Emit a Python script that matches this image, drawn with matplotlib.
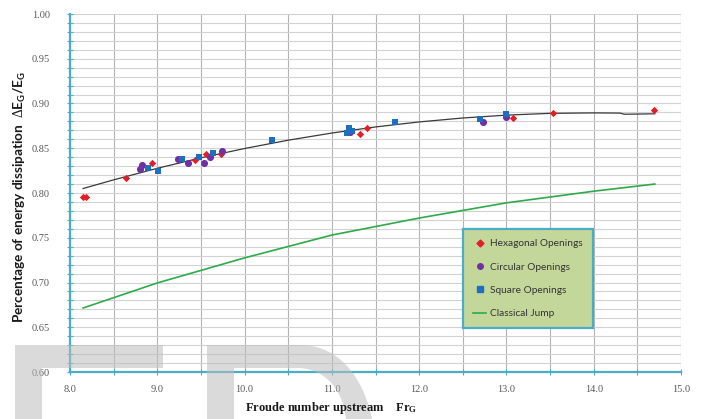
import matplotlib
matplotlib.use("Agg")
import matplotlib.pyplot as plt
from matplotlib.path import Path
from matplotlib.patches import PathPatch
from matplotlib.ticker import MultipleLocator, FormatStrFormatter
from matplotlib.lines import Line2D

# ---------------- data ----------------
hex_x = [8.15, 8.18, 8.64, 8.94, 9.43, 9.56, 9.73, 11.32, 11.40, 13.07, 13.53, 14.69]
hex_y = [0.795, 0.796, 0.817, 0.834, 0.837, 0.844, 0.844, 0.866, 0.873, 0.884, 0.889, 0.893]

circ_x = [8.80, 8.83, 9.24, 9.35, 9.53, 9.60, 9.74, 11.21, 12.73, 12.99]
circ_y = [0.827, 0.831, 0.838, 0.834, 0.834, 0.840, 0.847, 0.868, 0.879, 0.885]

sq_x = [8.89, 9.01, 9.28, 9.48, 9.64, 10.31, 11.17, 11.20, 11.23, 11.72, 12.70, 12.99]
sq_y = [0.828, 0.825, 0.838, 0.840, 0.845, 0.859, 0.867, 0.873, 0.869, 0.879, 0.883, 0.888]

trend_x = [8.15, 8.5, 9.0, 9.5, 10.0, 10.5, 11.0, 11.5, 12.0, 12.5, 13.0, 13.5, 14.0, 14.3, 14.35, 14.7]
trend_y = [0.805, 0.8147, 0.8276, 0.8393, 0.8497, 0.8590, 0.8670, 0.8738, 0.8794, 0.8838, 0.8870,
           0.8890, 0.8895, 0.8893, 0.8880, 0.8885]

classic_x = [8.15, 9.0, 10.0, 11.0, 12.0, 13.0, 14.0, 14.7]
classic_y = [0.6715, 0.6995, 0.7275, 0.7530, 0.7720, 0.7890, 0.8020, 0.8100]

legend_labels = ["Hexagonal Openings", "Circular Openings", "Square Openings", "Classical Jump"]

# ---------------- style ----------------
plt.rcParams["mathtext.fontset"] = "custom"
plt.rcParams["mathtext.bf"] = "Liberation Serif:bold"
plt.rcParams["mathtext.rm"] = "Liberation Serif"
plt.rcParams["mathtext.sf"] = "Lato:bold"

W, H = 707, 419
fig = plt.figure(figsize=(W / 100, H / 100), dpi=100)
fig.patch.set_facecolor("white")

x0, x1, ytop, ybot = 70, 681, 14, 372
ax = fig.add_axes([x0 / W, 1 - ybot / H, (x1 - x0) / W, (ybot - ytop) / H])

red = "#e41e26"
purple = "#7030a0"
blue = "#1f6fc0"
green = "#2eaa4a"
spine_c = "#4bacc6"

ax.plot(trend_x, trend_y, color="#3a3a3a", lw=0.9, zorder=3)
ax.plot(classic_x, classic_y, color=green, lw=1.2, zorder=3)
ax.scatter(hex_x, hex_y, marker="D", s=14, color=red, zorder=4, linewidths=0)
ax.scatter(circ_x, circ_y, marker="o", s=26, color=purple, zorder=4, linewidths=0)
ax.scatter(sq_x, sq_y, marker="s", s=24, color=blue, zorder=5, linewidths=0)

ax.set_xlim(8, 15)
ax.set_ylim(0.6, 1.0)
ax.xaxis.set_major_locator(MultipleLocator(1))
ax.xaxis.set_minor_locator(MultipleLocator(0.5))
ax.yaxis.set_major_locator(MultipleLocator(0.05))
ax.yaxis.set_minor_locator(MultipleLocator(0.01))
ax.xaxis.set_major_formatter(FormatStrFormatter("%.1f"))
ax.yaxis.set_major_formatter(FormatStrFormatter("%.2f"))

ax.grid(True, which="both", axis="x", color="#b4b4b4", lw=0.8)
ax.grid(True, which="both", axis="y", color="#d2d2d2", lw=0.8)
ax.set_axisbelow(True)

for s in ("top", "right"):
    ax.spines[s].set_visible(False)
for s in ("left", "bottom"):
    ax.spines[s].set_color(spine_c)
    ax.spines[s].set_linewidth(1.6)

ax.tick_params(axis="both", which="both", direction="inout", color=spine_c, width=0.8)
ax.tick_params(axis="both", which="major", length=5)
ax.tick_params(axis="both", which="minor", length=4)
ax.tick_params(axis="y", which="major", pad=12)
ax.tick_params(axis="x", which="major", pad=7)
for lab in ax.get_xticklabels() + ax.get_yticklabels():
    lab.set_fontfamily("Liberation Serif")
    lab.set_fontsize(7.5)
    lab.set_color("#595959")

# legend
handles = [
    Line2D([], [], ls="none", marker="D", ms=3.5, color=red),
    Line2D([], [], ls="none", marker="o", ms=4, color=purple),
    Line2D([], [], ls="none", marker="s", ms=4, color=blue),
    Line2D([], [], color=green, lw=1.2),
]
leg = ax.legend(handles, legend_labels, loc="upper left",
                bbox_to_anchor=(463 / W, 1 - 229 / H), bbox_transform=fig.transFigure,
                prop={"family": "Lato", "size": 7.3}, frameon=True, fancybox=False,
                borderpad=1.0, labelspacing=1.4, handlelength=1.3, handletextpad=0.4,
                borderaxespad=0)
frame = leg.get_frame()
frame.set_facecolor("#c4d79b")
frame.set_edgecolor(spine_c)
frame.set_linewidth(1.6)
frame.set_alpha(1)
leg.set_zorder(10)
for t in leg.get_texts():
    t.set_color("#333333")

# axis labels
fig.text(20 / W, 1 - 197 / H,
         r"Percentage of energy dissipation  $\Delta$E$_{\mathsf{G}}$/E$_{\mathsf{G}}$",
         rotation=90, ha="center", va="center", family="Lato", weight="bold",
         fontsize=9.8, color="#1a1a1a", zorder=3)
fig.text(331 / W, 1 - 408 / H, r"Froude number upstream    $\mathbf{Fr_{G}}$",
         ha="center", va="center", family="Liberation Serif", weight="bold",
         fontsize=9, color="#1a1a1a", zorder=3)

# watermark shapes (figure pixel coords -> fraction)
def P(px, py):
    return (px / W, 1 - py / H)

wm_kw = dict(facecolor="#bdbdbd", edgecolor="none", alpha=0.55,
             transform=fig.transFigure, zorder=2)
E_verts = [P(15, 419), P(15, 345), P(163, 345), P(163, 368), P(42, 368), P(42, 419), P(15, 419)]
E_codes = [Path.MOVETO] + [Path.LINETO] * 5 + [Path.CLOSEPOLY]
fig.patches.append(PathPatch(Path(E_verts, E_codes), **wm_kw))

D_verts = [P(207, 419), P(207, 345), P(300, 345),
           P(360, 345), P(372, 419), P(372, 419),
           P(346, 419),
           P(340, 368), P(300, 368), P(300, 368),
           P(234, 368), P(234, 419), P(207, 419)]
D_codes = [Path.MOVETO, Path.LINETO, Path.LINETO,
           Path.CURVE4, Path.CURVE4, Path.CURVE4,
           Path.LINETO,
           Path.CURVE4, Path.CURVE4, Path.CURVE4,
           Path.LINETO, Path.LINETO, Path.CLOSEPOLY]
fig.patches.append(PathPatch(Path(D_verts, D_codes), **wm_kw))

fig.savefig("out.png", dpi=100)
